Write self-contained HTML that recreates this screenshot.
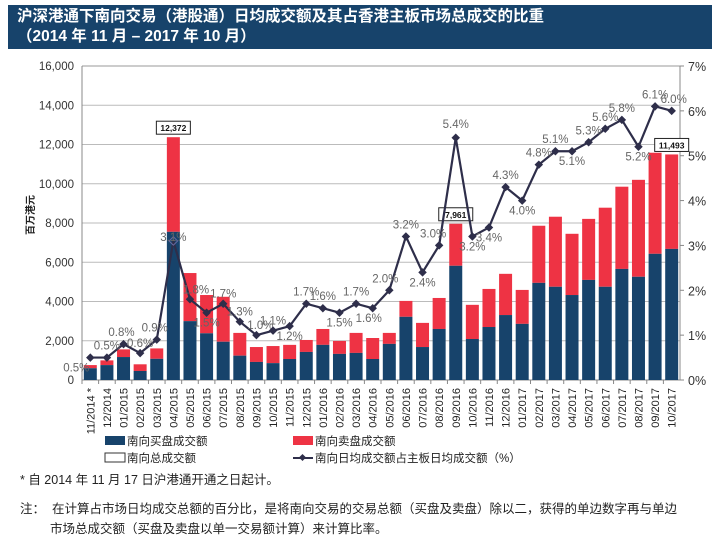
<!DOCTYPE html>
<html><head><meta charset="utf-8"><style>
body{margin:0;width:720px;height:545px;background:#fff;font-family:"Liberation Sans","Noto Sans CJK SC",sans-serif;overflow:hidden;position:relative}
#title{position:absolute;left:8px;top:5px;width:704px;height:44px;background:#17436b;color:#fff;font-size:15.5px;font-weight:bold;line-height:20px;padding:2px 0 0 9px;box-sizing:border-box}
svg{position:absolute;left:0;top:0}
.note{position:absolute;font-size:12.5px;color:#222}
</style></head><body>
<div id="title">沪深港通下南向交易（港股通）日均成交额及其占香港主板市场总成交的比重<br>（2014 年 11 月 – 2017 年 10 月）</div>
<svg id="chart" width="720" height="545"></svg>
<div class="note" style="left:20px;top:469px">* 自 2014 年 11 月 17 日沪港通开通之日起计。</div>
<div class="note" style="left:20px;top:498px">注：&nbsp;&nbsp;在计算占市场日均成交总额的百分比，是将南向交易的交易总额（买盘及卖盘）除以二，获得的单边数字再与单边</div>
<div class="note" style="left:50px;top:518px">市场总成交额（买盘及卖盘以单一交易额计算）来计算比率。</div>
<script>
const categories=["11/2014 *","12/2014","01/2015","02/2015","03/2015","04/2015","05/2015","06/2015","07/2015","08/2015","09/2015","10/2015","11/2015","12/2015","01/2016","02/2016","03/2016","04/2016","05/2016","06/2016","07/2016","08/2016","09/2016","10/2016","11/2016","12/2016","01/2017","02/2017","03/2017","04/2017","05/2017","06/2017","07/2017","08/2017","09/2017","10/2017"];
const buyValues=[600,760,1170,460,1080,7550,3000,2380,1950,1240,920,860,1070,1430,1790,1330,1380,1070,1840,3220,1680,2600,5820,2090,2700,3310,2860,4950,4750,4330,5100,4750,5660,5260,6430,6680];
const totalValues=[760,1000,1560,800,1610,12372,5450,4330,4240,2400,1680,1730,1790,2040,2600,1990,2400,2140,2400,4030,2910,4180,7961,3830,4640,5410,4590,7860,8320,7450,8210,8780,9850,10200,11580,11493];
const pctValues=[0.5,0.5,0.8,0.6,0.9,3.1,1.8,1.5,1.7,1.3,1.0,1.1,1.2,1.7,1.6,1.5,1.7,1.6,2.0,3.2,2.4,3.0,5.4,3.2,3.4,4.3,4.0,4.8,5.1,5.1,5.3,5.6,5.8,5.2,6.1,6.0];
const leftTicks=[0,2000,4000,6000,8000,10000,12000,14000,16000];
const rightTicks=[0,1,2,3,4,5,6,7];
const calloutIdx=[5,22,35];
// label offsets (style): positive = below
const labelDy=[14,-8,-8,-6,-8,0,-6,14,-6,-6,-6,-6,14,-8,-8,14,-8,14,-8,-8,14,-8,-10,14,14,-8,14,-8,-8,14,-8,-8,-8,14,-8,-8];
const labelDx=[-14,0,-2,0,-2,0,6,0,0,0,4,0,0,0,0,0,0,-4,-4,0,0,-6,0,0,0,0,0,0,0,0,0,0,0,0,0,2];
const ns="http://www.w3.org/2000/svg",svg=document.getElementById('chart');
const X0=82,X1=680,Y0=380,Y1=66,n=categories.length,step=(X1-X0)/n,bw=13;
const xc=i=>X0+step*(i+0.5);
const yL=v=>Y0-(v/16000)*(Y0-Y1);
const yR=p=>Y0-(p/7)*(Y0-Y1);
function mk(t,a,p){const e=document.createElementNS(ns,t);for(const k in a)e.setAttribute(k,a[k]);(p||svg).appendChild(e);return e;}
leftTicks.forEach(v=>{
 const g=mk('line',{x1:X0,x2:X1,y1:yL(v),y2:yL(v),stroke:v===16000?'#999':'#bbb','stroke-width':1});
 
 
 const t=mk('text',{x:X0-8,y:yL(v)+4,'text-anchor':'end','font-size':11.5,fill:'#333'});t.textContent=v.toLocaleString('en-US');
 
 
});
rightTicks.forEach(p=>{
 const t=mk('text',{x:X1+8,y:yR(p)+5,'font-size':12.5,fill:'#333'});t.textContent=p+'%';
 
 
 mk('line',{x1:X1,x2:X1+4,y1:yR(p),y2:yR(p),stroke:'#888'});
});
mk('line',{x1:X0,x2:X0,y1:Y1,y2:Y0,stroke:'#888'});
mk('line',{x1:X1,x2:X1,y1:Y1,y2:Y0,stroke:'#888'});
mk('line',{x1:X0,x2:X1,y1:Y0,y2:Y0,stroke:'#888'});
const yt=mk('text',{x:34,y:215,'font-size':10,'font-weight':'bold',fill:'#222',transform:'rotate(-90 34 215)','text-anchor':'middle'});yt.textContent='百万港元';


categories.forEach((c,i)=>{
 const x=xc(i);
 const r=mk('rect',{x:x-bw/2,y:yL(totalValues[i]),width:bw,height:yL(buyValues[i])-yL(totalValues[i]),fill:'#ee3344'});
 
 
 const b=mk('rect',{x:x-bw/2,y:yL(buyValues[i]),width:bw,height:Y0-yL(buyValues[i]),fill:'#17436b'});
 
 
 mk('line',{x1:X0+step*i,x2:X0+step*i,y1:Y0,y2:Y0+4,stroke:'#888'});
 const t=mk('text',{x:x+4,y:388,'font-size':11,fill:'#222','text-anchor':'end',transform:`rotate(-90 ${x+4} 388)`});t.textContent=c;
 
 
});
calloutIdx.forEach(i=>{
 const x=xc(i),y=yL(totalValues[i]);
 mk('rect',{x:x-17,y:y-16,width:34,height:13,fill:'#fff',stroke:'#222','stroke-width':1});
 const t=mk('text',{x:x,y:y-6,'text-anchor':'middle','font-size':8.5,'font-weight':'bold',fill:'#111'});t.textContent=totalValues[i].toLocaleString('en-US');
 
 
});
const pl=mk('polyline',{points:pctValues.map((p,i)=>xc(i)+','+yR(p)).join(' '),fill:'none',stroke:'#2e2e4a','stroke-width':2.2});


pctValues.forEach((p,i)=>{
 const x=xc(i),y=yR(p);
 const d=mk('rect',{x:x-3,y:y-3,width:6,height:6,fill:i===5?'none':'#2e2e4a',stroke:i===5?'#6a6aa0':'none',transform:`rotate(45 ${x} ${y})`});
 
 
 const t=mk('text',{x:x+labelDx[i],y:y+labelDy[i],'text-anchor':'middle','font-size':11.5,fill:'#666'});t.textContent=p.toFixed(1)+'%';
 
 
});
// legend
const lg=mk('g',{});


mk('rect',{x:105,y:436,width:20,height:9,fill:'#17436b'},lg);
mk('rect',{x:293,y:436,width:20,height:9,fill:'#ee3344'},lg);
mk('rect',{x:105,y:453,width:20,height:9,fill:'#fff',stroke:'#333'},lg);
mk('line',{x1:293,x2:313,y1:458,y2:458,stroke:'#2e2e4a','stroke-width':2},lg);
mk('rect',{x:300,y:455,width:5,height:5,fill:'#2e2e4a',transform:'rotate(45 302.5 457.5)'},lg);
[[127,445,'南向买盘成交额'],[315,445,'南向卖盘成交额'],[127,462,'南向总成交额'],[315,462,'南向日均成交额占主板日均成交额（%）']].forEach(a=>{
 const t=mk('text',{x:a[0],y:a[1],'font-size':11.5,fill:'#222'},lg);t.textContent=a[2];
 
 
});
</script>
</body></html>
